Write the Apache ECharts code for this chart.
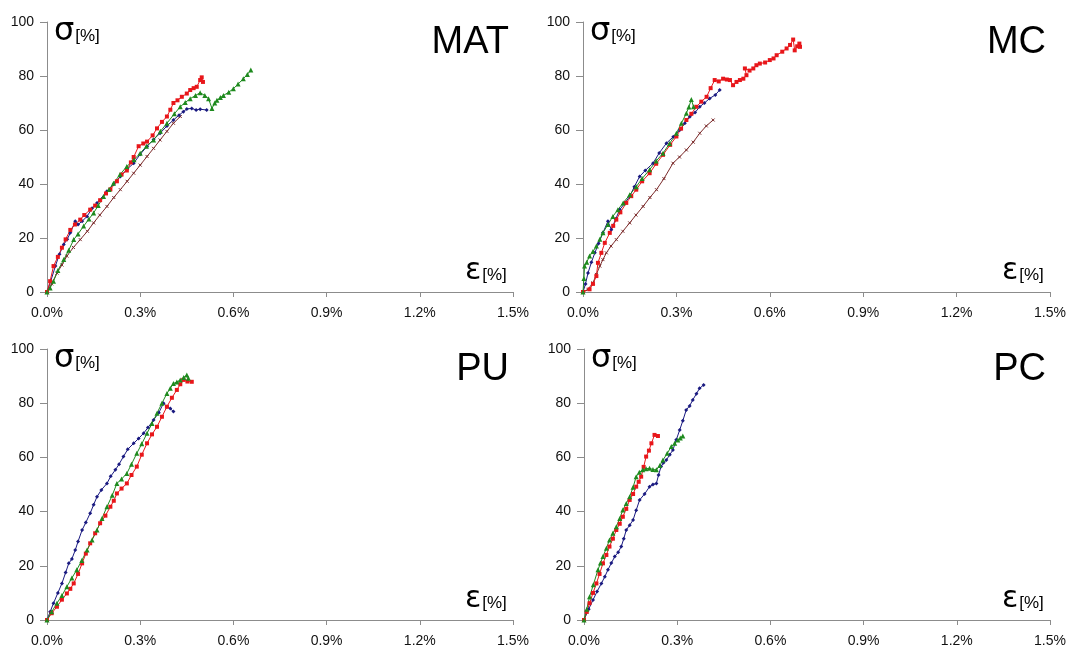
<!DOCTYPE html>
<html><head><meta charset="utf-8">
<script src="https://cdn.jsdelivr.net/npm/echarts@6/dist/echarts.min.js"></script>
<style>html,body{margin:0;padding:0;background:#fff}#c{width:1070px;height:650px}</style>
</head><body><div id="c"></div>
<script>
// tick labels
const xTicks = ['0.0%','0.3%','0.6%','0.9%','1.2%','1.5%'];
const yTicks = [0,20,40,60,80,100];
const panelNames = ['MAT','MC','PU','PC'];

// MAT (strain %, stress %)
const MAT_navy = [[0,0],[0.012,4],[0.027,9.6],[0.04,14],[0.054,17.6],[0.065,19.5],[0.075,21.9],[0.091,26.2],[0.1,25],[0.113,26.2],[0.129,28],[0.145,31],[0.161,33],[0.193,37.3],[0.215,40],[0.236,42.8],[0.258,45.5],[0.279,47.7],[0.3,51],[0.322,53.9],[0.343,56.5],[0.364,58.8],[0.386,61.5],[0.407,63.7],[0.425,65.5],[0.439,66.8],[0.45,67.8],[0.466,68],[0.48,67.4],[0.493,67.7],[0.514,67.4]];
const MAT_red = [[0,0],[0.01,4],[0.021,9.6],[0.035,13],[0.048,16.4],[0.06,19.5],[0.075,23],[0.09,25],[0.107,26.8],[0.12,28.5],[0.139,30.5],[0.155,32],[0.171,34],[0.19,36.5],[0.204,38],[0.225,41],[0.24,43.5],[0.257,45],[0.27,48],[0.279,50],[0.295,54],[0.31,55],[0.322,55.7],[0.34,58],[0.354,60.6],[0.37,63],[0.386,65],[0.397,67.5],[0.407,70],[0.42,71],[0.434,72.3],[0.45,73.5],[0.461,74.8],[0.472,75.5],[0.482,76],[0.493,78.5],[0.498,79.5],[0.502,77.8]];
const MAT_green = [[0,0],[0.01,1.5],[0.021,4],[0.035,8],[0.054,12],[0.07,15.5],[0.086,19.4],[0.1,21.5],[0.118,24.4],[0.135,27],[0.15,29.3],[0.165,32],[0.182,35.4],[0.2,38],[0.214,40.3],[0.235,43.5],[0.257,46.5],[0.28,49],[0.3,51.4],[0.32,54],[0.343,56.3],[0.365,59.5],[0.386,62.5],[0.41,66],[0.429,68.6],[0.445,70.2],[0.461,71.6],[0.478,72.8],[0.493,73.8],[0.508,72.8],[0.52,71.6],[0.531,68],[0.54,70],[0.547,71],[0.558,72],[0.568,72.8],[0.585,74],[0.6,75.3],[0.615,77],[0.632,79],[0.645,80.6],[0.656,82.2]];
const MAT_brown = [[0,0],[0.015,3],[0.032,7],[0.048,10],[0.064,13.3],[0.085,16.5],[0.107,19.4],[0.13,22.5],[0.15,25.6],[0.17,28.5],[0.193,31.7],[0.215,35],[0.236,37.9],[0.258,41],[0.279,44],[0.3,47],[0.322,50.2],[0.343,53.2],[0.364,56.3],[0.386,59.5],[0.407,62.5],[0.429,65]];

// MC
const MC_navy = [[0,0],[0.008,3],[0.016,7],[0.027,11],[0.038,14.5],[0.05,18],[0.064,21.9],[0.08,26.2],[0.091,23.1],[0.105,27],[0.118,30.5],[0.135,33],[0.15,35.4],[0.165,39],[0.182,42.8],[0.2,45],[0.225,47.7],[0.245,51.5],[0.268,55.1],[0.29,57.5],[0.311,60],[0.327,62.5],[0.343,64.9],[0.36,66.5],[0.375,68.6],[0.39,70],[0.407,71.7],[0.425,73],[0.439,74.8]];
const MC_red = [[0,0],[0.021,1],[0.032,3],[0.043,5.9],[0.048,10.8],[0.059,14.5],[0.07,18.2],[0.086,21.9],[0.097,24.5],[0.107,26.8],[0.12,29.5],[0.139,33],[0.155,35.5],[0.171,37.9],[0.19,41],[0.214,44],[0.235,47.5],[0.257,50.8],[0.28,54.5],[0.3,57.6],[0.315,60.5],[0.332,63.7],[0.348,66],[0.364,68.6],[0.38,70.5],[0.397,72.3],[0.41,75.5],[0.423,78.5],[0.436,78],[0.45,79],[0.462,78.7],[0.472,78.5],[0.482,76.6],[0.493,77.8],[0.504,78.5],[0.515,79],[0.525,80.3],[0.52,82.8],[0.535,82],[0.547,82.8],[0.557,84],[0.568,84.6],[0.585,85],[0.6,85.9],[0.612,86.5],[0.622,87.7],[0.64,89],[0.654,90.2],[0.665,91.5],[0.675,93.5],[0.68,89.5],[0.688,91],[0.695,92],[0.697,90.8]];
const MC_green = [[0,0],[0.003,5],[0.005,9.6],[0.012,11],[0.021,13.3],[0.032,15],[0.043,17],[0.054,19.5],[0.064,21.9],[0.08,25],[0.096,28],[0.112,30.5],[0.129,33],[0.15,36],[0.171,39],[0.19,42],[0.214,45.3],[0.235,48.5],[0.257,51.4],[0.278,55],[0.3,58.8],[0.316,62.5],[0.332,66.2],[0.34,68.5],[0.348,71.3],[0.355,68.6]];
const MC_brown = [[0,0],[0.016,1],[0.032,3.4],[0.043,6.5],[0.054,9.6],[0.064,12],[0.075,14.5],[0.09,17],[0.107,19.4],[0.128,22.5],[0.15,25.6],[0.17,28.5],[0.193,31.7],[0.215,35],[0.236,37.9],[0.26,42],[0.289,47.7],[0.31,50],[0.332,52.6],[0.354,55.5],[0.375,58.8],[0.396,61.5],[0.418,63.7]];

// PU
const PU_navy = [[0,0],[0.01,3],[0.021,6.2],[0.035,10],[0.048,13.5],[0.06,17.5],[0.07,20.9],[0.08,22.5],[0.091,25.8],[0.1,29],[0.113,33.2],[0.125,36],[0.139,39.4],[0.15,42.5],[0.161,45.5],[0.175,48],[0.193,50.4],[0.205,53],[0.22,55.4],[0.232,57.5],[0.246,60.3],[0.26,63],[0.279,65.2],[0.295,67],[0.311,68.9],[0.325,71],[0.343,73.8],[0.36,76.5],[0.375,80],[0.386,78.7],[0.397,78],[0.407,76.9]];
const PU_red = [[0,0],[0.015,2.5],[0.032,4.9],[0.048,7.5],[0.064,9.8],[0.075,11.5],[0.086,13.5],[0.1,17],[0.113,20.9],[0.125,24.5],[0.139,28.3],[0.155,32],[0.171,35.7],[0.188,38.5],[0.204,41.8],[0.215,44],[0.225,46.7],[0.24,48.5],[0.257,50.4],[0.272,53.5],[0.289,56.6],[0.305,61],[0.322,65.2],[0.338,68.5],[0.354,71.3],[0.37,75],[0.386,78.7],[0.402,82],[0.418,84.9],[0.429,87],[0.439,88.6],[0.452,88],[0.466,87.9]];
const PU_green = [[0,0],[0.015,3],[0.032,6.2],[0.048,9],[0.064,12.3],[0.08,15.5],[0.096,18.5],[0.112,22],[0.129,25.8],[0.145,29.5],[0.161,33.2],[0.177,37.5],[0.193,41.8],[0.21,46],[0.225,50.4],[0.24,52],[0.257,54.1],[0.272,57.5],[0.289,61.5],[0.305,65],[0.322,68.9],[0.338,72.5],[0.354,76.3],[0.37,80],[0.386,83.6],[0.397,85.5],[0.407,87.3],[0.418,87.8],[0.429,88.6],[0.44,89.5],[0.45,90.4],[0.455,89.2]];

// PC
const PC_navy = [[0,0],[0.015,4],[0.029,7.4],[0.042,10.5],[0.056,13.5],[0.067,16],[0.077,18.5],[0.088,21],[0.099,23.4],[0.11,25],[0.12,27.1],[0.128,30],[0.136,33.2],[0.147,35],[0.158,36.9],[0.168,40.5],[0.179,44.3],[0.195,46.5],[0.211,49.2],[0.222,50],[0.233,50.4],[0.24,53.5],[0.248,56.6],[0.256,58],[0.265,59],[0.276,61],[0.286,62.7],[0.297,66.5],[0.308,70.1],[0.318,73.5],[0.329,77.5],[0.34,79],[0.35,81.2],[0.362,83.5],[0.372,85.5],[0.385,86.7]];
const PC_red = [[0,0],[0.009,3],[0.018,6.2],[0.029,10],[0.04,13.5],[0.05,17],[0.061,20.9],[0.072,24],[0.082,27.1],[0.093,30],[0.104,33.2],[0.115,35.5],[0.125,38.1],[0.136,41],[0.147,44.3],[0.158,46.5],[0.168,49.2],[0.176,51],[0.184,52.9],[0.192,56.5],[0.2,60.3],[0.209,62.5],[0.217,65.2],[0.227,68.3],[0.238,67.9]];
const PC_green = [[0,0],[0.009,4],[0.018,8.6],[0.03,13],[0.045,18.5],[0.053,21],[0.061,23.4],[0.072,26.5],[0.082,29.5],[0.093,32],[0.104,34.4],[0.115,37.5],[0.125,40.6],[0.136,43],[0.147,45.5],[0.158,49],[0.168,52.9],[0.178,54.5],[0.189,55.4],[0.2,55.8],[0.211,56],[0.222,55.5],[0.233,55.4],[0.244,57],[0.254,59],[0.268,61.5],[0.281,64],[0.292,65.2],[0.302,66.4],[0.31,67.2],[0.318,67.9]];

const panels = [
  {name:'MAT', series:[['brown',MAT_brown],['navy',MAT_navy],['red',MAT_red],['green',MAT_green]]},
  {name:'MC', series:[['brown',MC_brown],['navy',MC_navy],['red',MC_red],['green',MC_green]]},
  {name:'PU', series:[['navy',PU_navy],['red',PU_red],['green',PU_green]]},
  {name:'PC', series:[['navy',PC_navy],['red',PC_red],['green',PC_green]]}
];

const styles = {
  navy:{color:'#1a1a80', symbol:'diamond', size:4},
  red:{color:'#e8161a', symbol:'rect', size:4},
  green:{color:'#1e8a1e', symbol:'triangle', size:5},
  brown:{color:'#7a2a2a', symbol:'path://M0,0L10,10M10,0L0,10', size:3}
};

const grids = [
  {left:47, top:22, width:466, height:270},
  {left:583, top:22, width:467, height:270},
  {left:47, top:349, width:466, height:271},
  {left:584, top:349, width:466, height:271}
];

const axisCol = '#8c8c8c';
const xAxes = [], yAxes = [], series = [], graphics = [];
grids.forEach((g,i)=>{
  xAxes.push({type:'value', gridIndex:i, min:0, max:1.5, interval:0.3,
    axisLine:{show:true, onZero:false, lineStyle:{color:axisCol}},
    axisTick:{show:true, length:5, lineStyle:{color:axisCol}},
    splitLine:{show:false},
    axisLabel:{color:'#111', fontFamily:'Liberation Sans', fontSize:14, margin:14,
      formatter:(v)=> xTicks[Math.round(v/0.3)]}});
  yAxes.push({type:'value', gridIndex:i, min:0, max:100, interval:20,
    axisLine:{show:true, lineStyle:{color:axisCol}},
    axisTick:{show:true, length:7, lineStyle:{color:axisCol}},
    splitLine:{show:false},
    axisLabel:{color:'#111', fontFamily:'Liberation Sans', fontSize:14, margin:13,
      formatter:(v)=> String(yTicks[Math.round(v/20)])}});
  panels[i].series.forEach(([k,data])=>{
    const st = styles[k];
    series.push({type:'line', xAxisIndex:i, yAxisIndex:i, data:data,
      symbol:st.symbol, symbolSize:st.size, showSymbol:true,
      lineStyle:{color:st.color, width:1}, itemStyle:{color:st.color, borderColor:st.color, borderWidth: k==='brown'?1:0},
      animation:false, silent:true});
  });
  // labels
  graphics.push({type:'text', right: 1070-(g.left+g.width)+4, top:g.top+2,
    style:{text:panelNames[i], font:'38px "Liberation Sans"', fill:'#000', textAlign:'right'}});
  graphics.push({type:'text', left:g.left+7, top:g.top-6,
    style:{text:'{a|σ}{b|[%]}', rich:{a:{font:'32px "DejaVu Sans"', fill:'#000'}, b:{font:'17px "Liberation Sans"', fill:'#000', padding:[8,0,0,1]}}}});
  graphics.push({type:'text', left:g.left+g.width-48, top:g.top+g.height-36,
    style:{text:'{a|ε}{b|[%]}', rich:{a:{font:'30px "DejaVu Sans"', fill:'#000'}, b:{font:'17px "Liberation Sans"', fill:'#000', padding:[8,0,0,1]}}}});
});

const chart = echarts.init(document.getElementById('c'), null, {renderer:'canvas'});
chart.setOption({animation:false, grid:grids, xAxis:xAxes, yAxis:yAxes, series:series, graphic:graphics});
</script></body></html>
